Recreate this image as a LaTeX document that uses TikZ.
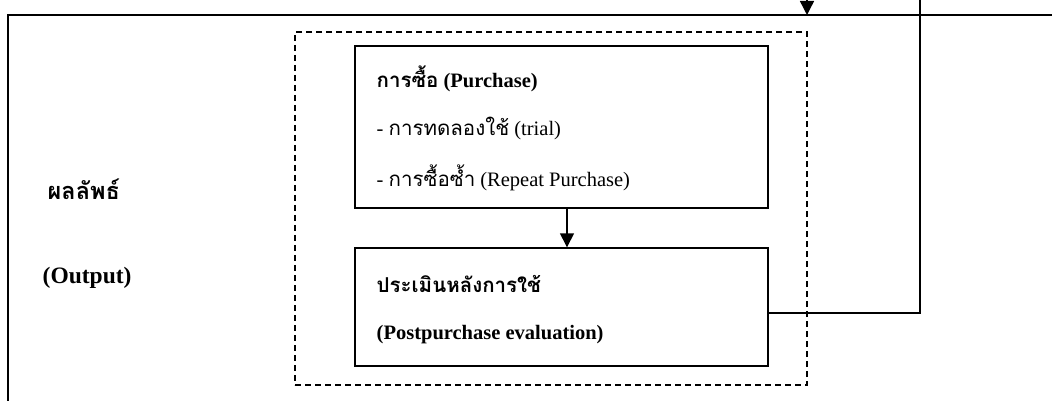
\documentclass[tikz,border=0pt]{standalone}
\usepackage{fontspec}
\setmainfont{Liberation Serif}
\newfontfamily\thai[Script=Thai]{Loma}
\usetikzlibrary{arrows.meta}
\begin{document}
\begin{tikzpicture}[x=1pt,y=-1pt,
  line width=1.4pt,
  box/.style={draw,rectangle,inner sep=0pt},
  grp/.style={draw,rectangle,dashed,dash pattern=on 6pt off 4pt,line width=1.2pt,inner sep=0pt},
  txt/.style={anchor=west,inner sep=0pt,font=\fontsize{20.5}{24}\selectfont},
  btxt/.style={txt,font=\fontsize{20.5}{24}\selectfont\bfseries},
  ltxt/.style={txt,font=\fontsize{23.5}{28}\selectfont\bfseries},
  arr/.style={-{Triangle[length=14pt,width=14pt]}}]
\useasboundingbox (0,0) rectangle (1052,401);
% outer frame
\draw (8,401) -- (8,15) -- (1052,15);
% group and boxes
\node[grp,minimum width=512pt,minimum height=353pt] (group) at (551,208.5) {};
\node[box,minimum width=413pt,minimum height=162pt] (purchase) at (561.5,127) {};
\node[box,minimum width=413pt,minimum height=118pt] (eval) at (561.5,307) {};
% texts
\node[btxt] (t1) at (376,79) {{\thai\bfseries การซื้อ} (Purchase)};
\node[txt] (t2) at (376,128) {- {\thai การทดลองใช้} (trial)};
\node[txt] (t3) at (376,178) {- {\thai การซื้อซ้ำ} (Repeat Purchase)};
\node[btxt] (t4) at (376,284) {\thai\bfseries ประเมินหลังการใช้};
\node[btxt] (t5) at (376,335) {(Postpurchase evaluation)};
\node[ltxt] (o1) at (47,189) {\thai\bfseries ผลลัพธ์};
\node[ltxt] (o2) at (42,278) {(Output)};
% connectors
\coordinate (intop) at (807,0);
\coordinate (inend) at (807,15);
\draw[arr] (intop) -- (inend);
\draw[arr] (purchase.south -| 567,0) -- (eval.north -| 567,0);
\coordinate (fbtop) at (920,0);
\draw ([yshift=-6pt]eval.east) -| (fbtop);
\end{tikzpicture}
\end{document}
